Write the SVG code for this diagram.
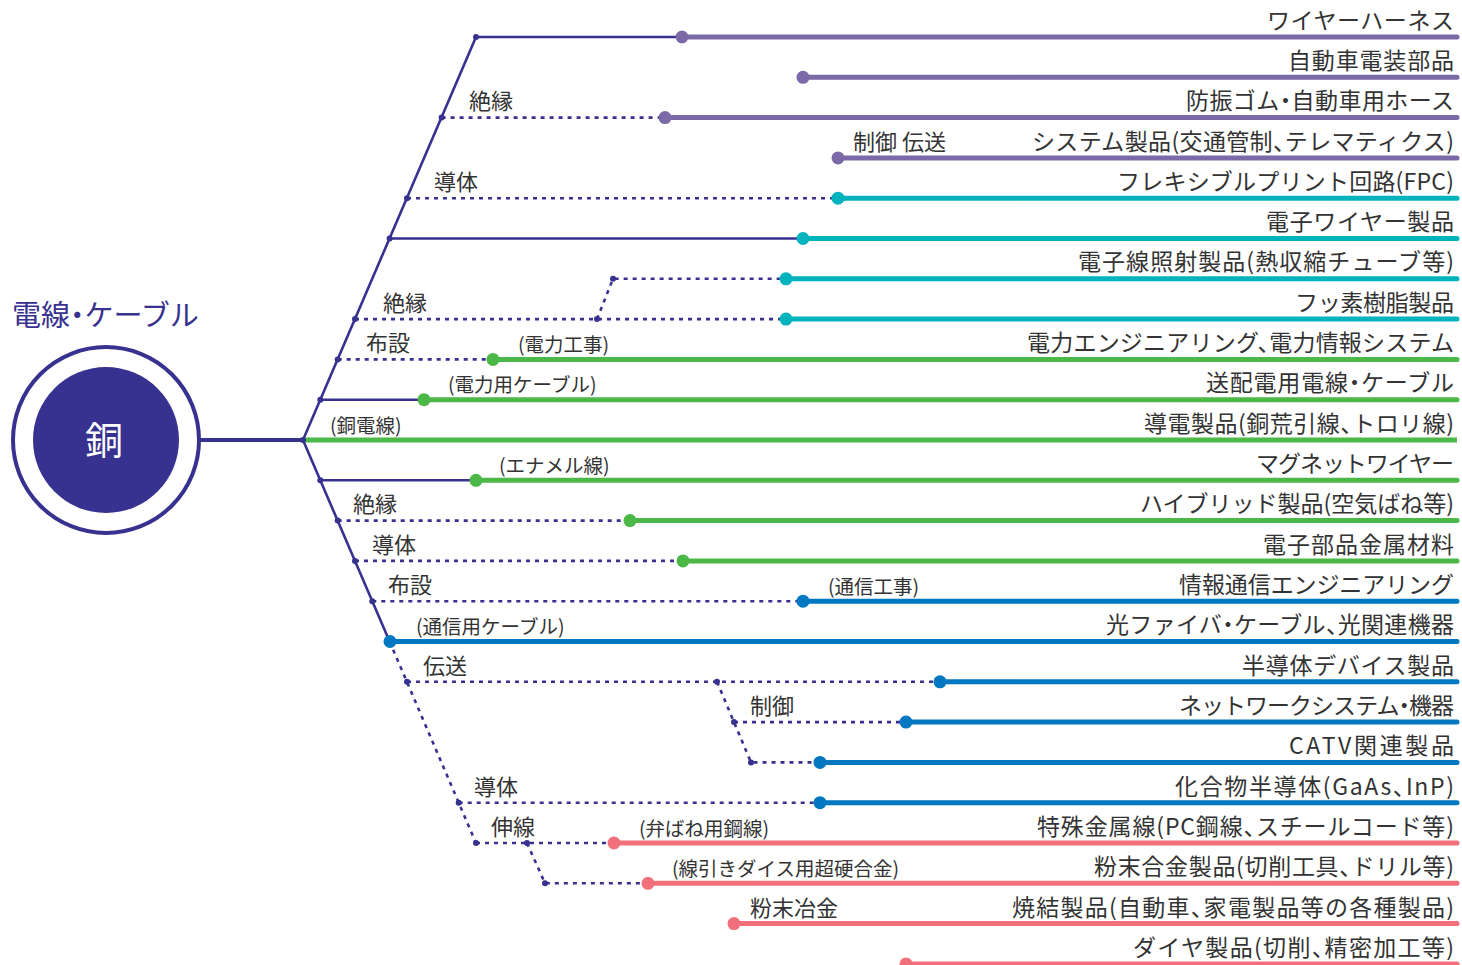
<svg xmlns="http://www.w3.org/2000/svg" width="1462" height="965" viewBox="0 0 1462 965">
<style>
.t{font-family:"Noto Sans CJK JP","Noto Sans",sans-serif;fill:#333;font-feature-settings:"halt"}
.r{font-size:23px;text-anchor:end}
.l{font-size:22px}
.p{font-size:19.5px}
.nv{stroke:#37318f;stroke-width:2.6;fill:none}
.dt{stroke:#37318f;stroke-width:2.6;fill:none;stroke-dasharray:4 5}
.pu{stroke:#7b6aa7;stroke-width:5;stroke-linecap:round}
.te{stroke:#00b3bd;stroke-width:5;stroke-linecap:round}
.gr{stroke:#4cb847;stroke-width:5;stroke-linecap:round}
.bl{stroke:#0078c1;stroke-width:5;stroke-linecap:round}
.pk{stroke:#f1707b;stroke-width:5;stroke-linecap:round}
.dpu{fill:#7b6aa7}.dte{fill:#00b3bd}.dgr{fill:#4cb847}.dbl{fill:#0078c1}.dpk{fill:#f1707b}
.sd{fill:#37318f}
</style>
<g id="hub">
<circle cx="106" cy="440" r="93" fill="#fff" stroke="#37318f" stroke-width="4"/>
<circle cx="106" cy="440" r="73" fill="#37318f"/>
<text x="104" y="454" class="t" style="fill:#fff;font-size:38px;text-anchor:middle">銅</text>
<text x="12" y="326" class="t" style="fill:#37318f;font-size:29px">電線・ケーブル</text>
</g>
<g id="connectors">
<line x1="199" y1="440" x2="303" y2="440" stroke="#37318f" stroke-width="4"/>
<polyline class="nv" points="476,37 303,440 389.6,641.5"/>
<line class="dt" x1="389.6" y1="641.5" x2="476" y2="843"/>
<line class="nv" x1="476" y1="37" x2="682" y2="37"/>
<line class="dt" x1="441.6" y1="117.6" x2="665" y2="117.6"/>
<line class="dt" x1="407" y1="198.2" x2="838" y2="198.2"/>
<line class="nv" x1="389.6" y1="238.5" x2="803" y2="238.5"/>
<polyline class="dt" points="597,319.1 613,278.8 786,278.8"/>
<line class="dt" x1="355" y1="319.1" x2="786" y2="319.1"/>
<line class="dt" x1="337.7" y1="359.4" x2="493" y2="359.4"/>
<line class="nv" x1="320.3" y1="399.7" x2="424" y2="399.7"/>
<line class="nv" x1="320.3" y1="480.3" x2="476" y2="480.3"/>
<line class="dt" x1="337.7" y1="520.6" x2="630" y2="520.6"/>
<line class="dt" x1="355" y1="560.9" x2="683" y2="560.9"/>
<line class="dt" x1="372.3" y1="601.2" x2="803" y2="601.2"/>
<line class="dt" x1="407" y1="681.8" x2="940" y2="681.8"/>
<polyline class="dt" points="717,681.8 751,762.4 820,762.4"/>
<line class="dt" x1="734" y1="722.1" x2="906" y2="722.1"/>
<line class="dt" x1="458.7" y1="802.7" x2="820" y2="802.7"/>
<line class="dt" x1="476" y1="843" x2="614" y2="843"/>
<polyline class="dt" points="527,843 545,883.3 648,883.3"/>
<g>
<line class="pu" x1="682" y1="37" x2="1457" y2="37"/>
<line class="pu" x1="803" y1="77.3" x2="1457" y2="77.3"/>
<line class="pu" x1="665" y1="117.6" x2="1457" y2="117.6"/>
<line class="pu" x1="838" y1="157.9" x2="1457" y2="157.9"/>
<line class="te" x1="838" y1="198.2" x2="1457" y2="198.2"/>
<line class="te" x1="803" y1="238.5" x2="1457" y2="238.5"/>
<line class="te" x1="786" y1="278.8" x2="1457" y2="278.8"/>
<line class="te" x1="786" y1="319.1" x2="1457" y2="319.1"/>
<line class="gr" x1="493" y1="359.4" x2="1457" y2="359.4"/>
<line class="gr" x1="424" y1="399.7" x2="1457" y2="399.7"/>
<line class="gr" x1="305" y1="440" x2="1457" y2="440" style="stroke-linecap:butt"/>
<line class="gr" x1="476" y1="480.3" x2="1457" y2="480.3"/>
<line class="gr" x1="630" y1="520.6" x2="1457" y2="520.6"/>
<line class="gr" x1="683" y1="560.9" x2="1457" y2="560.9"/>
<line class="bl" x1="803" y1="601.2" x2="1457" y2="601.2"/>
<line class="bl" x1="390" y1="641.5" x2="1457" y2="641.5"/>
<line class="bl" x1="940" y1="681.8" x2="1457" y2="681.8"/>
<line class="bl" x1="906" y1="722.1" x2="1457" y2="722.1"/>
<line class="bl" x1="820" y1="762.4" x2="1457" y2="762.4"/>
<line class="bl" x1="820" y1="802.7" x2="1457" y2="802.7"/>
<line class="pk" x1="614" y1="843" x2="1457" y2="843"/>
<line class="pk" x1="648" y1="883.3" x2="1457" y2="883.3"/>
<line class="pk" x1="734" y1="923.6" x2="1457" y2="923.6"/>
<line class="pk" x1="906" y1="963.9" x2="1457" y2="963.9"/>
</g>
<g>
<circle class="sd" cx="476" cy="37" r="3"/>
<circle class="sd" cx="441.6" cy="117.6" r="3"/>
<circle class="sd" cx="407" cy="198.2" r="3"/>
<circle class="sd" cx="389.6" cy="238.5" r="3"/>
<circle class="sd" cx="355" cy="319.1" r="3"/>
<circle class="sd" cx="597" cy="319.1" r="3"/>
<circle class="sd" cx="613" cy="278.8" r="3"/>
<circle class="sd" cx="337.7" cy="359.4" r="3"/>
<circle class="sd" cx="320.3" cy="399.7" r="3"/>
<circle class="sd" cx="303" cy="440" r="3"/>
<circle class="sd" cx="320.3" cy="480.3" r="3"/>
<circle class="sd" cx="337.7" cy="520.6" r="3"/>
<circle class="sd" cx="355" cy="560.9" r="3"/>
<circle class="sd" cx="372.3" cy="601.2" r="3"/>
<circle class="sd" cx="407" cy="681.8" r="3"/>
<circle class="sd" cx="717" cy="681.8" r="3"/>
<circle class="sd" cx="734" cy="722.1" r="3"/>
<circle class="sd" cx="751" cy="762.4" r="3"/>
<circle class="sd" cx="458.7" cy="802.7" r="3"/>
<circle class="sd" cx="476" cy="843" r="3"/>
<circle class="sd" cx="527" cy="843" r="3"/>
<circle class="sd" cx="545" cy="883.3" r="3"/>
</g>
<g>
<circle class="dpu" cx="682" cy="37" r="6.5"/>
<circle class="dpu" cx="803" cy="77.3" r="6.5"/>
<circle class="dpu" cx="665" cy="117.6" r="6.5"/>
<circle class="dpu" cx="838" cy="157.9" r="6.5"/>
<circle class="dte" cx="838" cy="198.2" r="6.5"/>
<circle class="dte" cx="803" cy="238.5" r="6.5"/>
<circle class="dte" cx="786" cy="278.8" r="6.5"/>
<circle class="dte" cx="786" cy="319.1" r="6.5"/>
<circle class="dgr" cx="493" cy="359.4" r="6.5"/>
<circle class="dgr" cx="424" cy="399.7" r="6.5"/>
<circle class="dgr" cx="476" cy="480.3" r="6.5"/>
<circle class="dgr" cx="630" cy="520.6" r="6.5"/>
<circle class="dgr" cx="683" cy="560.9" r="6.5"/>
<circle class="dbl" cx="803" cy="601.2" r="6.5"/>
<circle class="dbl" cx="390" cy="641.5" r="6.5"/>
<circle class="dbl" cx="940" cy="681.8" r="6.5"/>
<circle class="dbl" cx="906" cy="722.1" r="6.5"/>
<circle class="dbl" cx="820" cy="762.4" r="6.5"/>
<circle class="dbl" cx="820" cy="802.7" r="6.5"/>
<circle class="dpk" cx="614" cy="843" r="6.5"/>
<circle class="dpk" cx="648" cy="883.3" r="6.5"/>
<circle class="dpk" cx="734" cy="923.6" r="6.5"/>
<circle class="dpk" cx="906" cy="963.9" r="6.5"/>
</g>
</g>
<g id="labels">
<text class="t l" x="469" y="109">絶縁</text>
<text class="t l" x="853" y="150">制御 伝送</text>
<text class="t l" x="434" y="190">導体</text>
<text class="t l" x="383" y="311">絶縁</text>
<text class="t l" x="366" y="351">布設</text>
<text class="t p" x="518" y="352">(電力工事)</text>
<text class="t p" x="448" y="392">(電力用ケーブル)</text>
<text class="t p" x="330" y="433">(銅電線)</text>
<text class="t p" x="499" y="473">(エナメル線)</text>
<text class="t l" x="353" y="512">絶縁</text>
<text class="t l" x="372" y="553">導体</text>
<text class="t l" x="388" y="593">布設</text>
<text class="t p" x="828" y="594">(通信工事)</text>
<text class="t p" x="416" y="634">(通信用ケーブル)</text>
<text class="t l" x="423" y="674">伝送</text>
<text class="t l" x="750" y="714">制御</text>
<text class="t l" x="474" y="795">導体</text>
<text class="t l" x="491" y="835">伸線</text>
<text class="t p" x="639" y="836">(弁ばね用鋼線)</text>
<text class="t p" x="672" y="876">(線引きダイス用超硬合金)</text>
<text class="t l" x="750" y="916">粉末冶金</text>
</g>
<g id="products">
<text class="t r" x="1454" y="29" textLength="187">ワイヤーハーネス</text>
<text class="t r" x="1454" y="69" textLength="166">自動車電装部品</text>
<text class="t r" x="1454" y="109" textLength="268">防振ゴム・自動車用ホース</text>
<text class="t r" x="1454" y="150" textLength="422">システム製品(交通管制、テレマティクス)</text>
<text class="t r" x="1454" y="190" textLength="337">フレキシブルプリント回路(FPC)</text>
<text class="t r" x="1454" y="230" textLength="188">電子ワイヤー製品</text>
<text class="t r" x="1454" y="270" textLength="376">電子線照射製品(熱収縮チューブ等)</text>
<text class="t r" x="1454" y="311" textLength="159">フッ素樹脂製品</text>
<text class="t r" x="1454" y="351" textLength="427">電力エンジニアリング、電力情報システム</text>
<text class="t r" x="1454" y="391" textLength="248">送配電用電線・ケーブル</text>
<text class="t r" x="1454" y="432" textLength="310">導電製品(銅荒引線、トロリ線)</text>
<text class="t r" x="1454" y="472" textLength="198">マグネットワイヤー</text>
<text class="t r" x="1454" y="512" textLength="314">ハイブリッド製品(空気ばね等)</text>
<text class="t r" x="1454" y="553" textLength="191">電子部品金属材料</text>
<text class="t r" x="1454" y="593" textLength="275">情報通信エンジニアリング</text>
<text class="t r" x="1454" y="633" textLength="348">光ファイバ・ケーブル、光関連機器</text>
<text class="t r" x="1454" y="674" textLength="212">半導体デバイス製品</text>
<text class="t r" x="1454" y="714" textLength="275">ネットワークシステム・機器</text>
<text class="t r" x="1454" y="754" textLength="165">CATV関連製品</text>
<text class="t r" x="1454" y="795" textLength="279">化合物半導体(GaAs、InP)</text>
<text class="t r" x="1454" y="835" textLength="417">特殊金属線(PC鋼線、スチールコード等)</text>
<text class="t r" x="1454" y="875" textLength="360">粉末合金製品(切削工具、ドリル等)</text>
<text class="t r" x="1454" y="916" textLength="442">焼結製品(自動車、家電製品等の各種製品)</text>
<text class="t r" x="1454" y="956" textLength="321">ダイヤ製品(切削、精密加工等)</text>
</g>
</svg>
